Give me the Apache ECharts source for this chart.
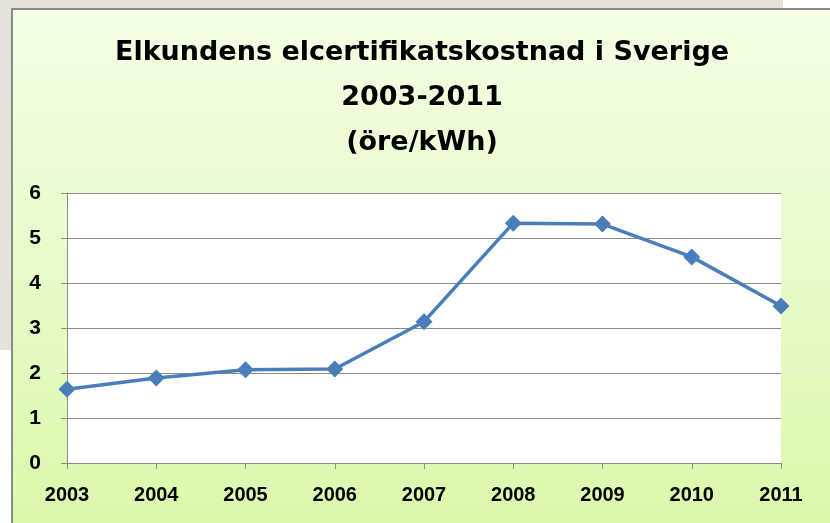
<!DOCTYPE html>
<html><head><meta charset="utf-8">
<script src="https://cdn.jsdelivr.net/npm/echarts@6/dist/echarts.min.js"></script>
<style>html,body{margin:0;padding:0;background:#fff;}#c{width:830px;height:523px;}</style>
</head><body><div id="c"></div>
<script>
const years = ['2003','2004','2005','2006','2007','2008','2009','2010','2011'];
const costs = [1.64, 1.89, 2.07, 2.09, 3.14, 5.33, 5.31, 4.58, 3.49];
const yTicks = {min: 0, max: 6, interval: 1};
const titleLines = ['Elkundens elcertifikatskostnad i Sverige', '2003-2011', '(öre/kWh)'];

const chart = echarts.init(document.getElementById('c'), null, {renderer: 'canvas'});
chart.setOption({
  animation: false,
  graphic: [
    {type: 'rect', z: -10, shape: {x: 0, y: 0, width: 783, height: 10}, style: {fill: '#e5e3d9'}},
    {type: 'rect', z: -10, shape: {x: 0, y: 0, width: 12, height: 350}, style: {fill: '#e5e3d9'}},
    {type: 'rect', z: -9, shape: {x: 12, y: 9, width: 830, height: 530},
     style: {fill: new echarts.graphic.LinearGradient(0, 0, 0, 1, [
       {offset: 0, color: '#f4ffe6'}, {offset: 1, color: '#d9f8aa'}]),
       stroke: '#8a8a8a', lineWidth: 2}},
    {type: 'text', z: 10, x: 422, y: 30,
     style: {text: titleLines.join('\n'), align: 'center', verticalAlign: 'top',
       fontFamily: 'DejaVu Sans', fontWeight: 'bold', fontSize: 27, lineHeight: 45, fill: '#000'}}
  ],
  grid: {left: 67, right: 49, top: 193, bottom: 60, show: true, backgroundColor: '#ffffff', borderWidth: 0},
  xAxis: {
    type: 'category', data: years, boundaryGap: false,
    axisLine: {lineStyle: {color: '#8c8c8c', width: 1}},
    axisTick: {show: true, length: 6, lineStyle: {color: '#8c8c8c'}},
    axisLabel: {margin: 22, fontFamily: 'Liberation Sans', fontWeight: 'bold', fontSize: 20, color: '#000'},
    splitLine: {show: false}
  },
  yAxis: {
    type: 'value', min: yTicks.min, max: yTicks.max, interval: yTicks.interval,
    axisLine: {show: true, lineStyle: {color: '#8c8c8c', width: 1}},
    axisTick: {show: true, length: 6, lineStyle: {color: '#8c8c8c'}},
    axisLabel: {margin: 26, fontFamily: 'Liberation Sans', fontWeight: 'bold', fontSize: 21, color: '#000'},
    splitLine: {show: true, lineStyle: {color: '#8c8c8c', width: 1}}
  },
  series: [{
    type: 'line', data: costs,
    symbol: 'diamond', symbolSize: 17,
    lineStyle: {color: '#4a7ebb', width: 3.5},
    itemStyle: {color: '#4a7ebb'}
  }]
});
</script></body></html>
